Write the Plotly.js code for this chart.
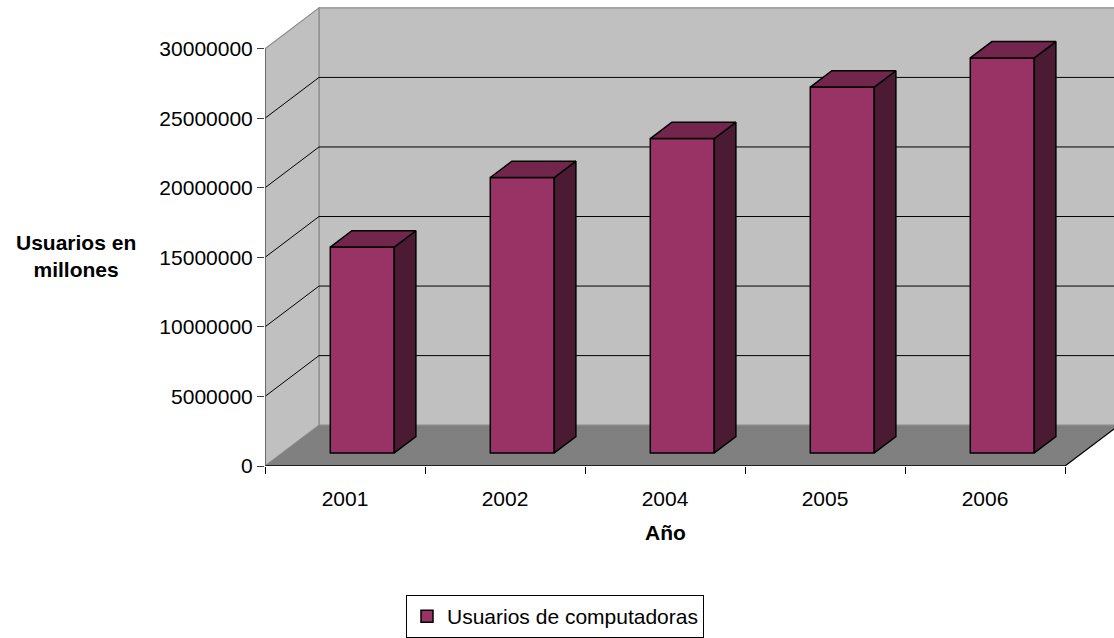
<!DOCTYPE html>
<html>
<head>
<meta charset="utf-8">
<script src="https://cdn.plot.ly/plotly-3.0.1.min.js"></script>
<style>
  html, body { margin: 0; padding: 0; background: #ffffff; }
  #chart { width: 1114px; height: 638px; }
</style>
</head>
<body>
<div id="chart"></div>
<script>
// Data
const years = ['2001', '2002', '2004', '2005', '2006'];
const users = [14800000, 19800000, 22600000, 26300000, 28400000];
const yTicks = [0, 5000000, 10000000, 15000000, 20000000, 25000000, 30000000];
const seriesName = 'Usuarios de computadoras';
const xTitle = 'Año';
const yTitle = 'Usuarios en<br>millones';

// Oblique 3-D look: depth vector expressed in axis units
const DX = 0.3375;      // depth shift along x (category units)
const DY = 2935000;     // depth shift along y (value units)
const BAR_W = 0.4;      // bar width (category units)
const F0 = 0.32;        // depth of bar front face (0 = front, 1 = back wall)
const F1 = 0.72;        // depth of bar back face

const FONT = 'Liberation Sans, Arial, sans-serif';
const cat = years.map((_, i) => i);
const X0 = -0.5;
const X1 = years.length - 0.5;
const bounds = cat.map(i => i - 0.5).concat([X1]);
const YTOP = yTicks[yTicks.length - 1];

// Front faces of the columns
const traces = [{
  type: 'bar',
  name: seriesName,
  x: cat.map(i => i + F0 * DX),
  y: users,
  base: F0 * DY,
  width: BAR_W,
  marker: { color: '#993366', line: { color: '#000000', width: 1.5 } },
  hoverinfo: 'skip',
  showlegend: true
}];

// Side and top faces of each column
users.forEach((v, i) => {
  const xl0 = i - BAR_W / 2 + F0 * DX, xr0 = i + BAR_W / 2 + F0 * DX;
  const xl1 = i - BAR_W / 2 + F1 * DX, xr1 = i + BAR_W / 2 + F1 * DX;
  const b0 = F0 * DY, b1 = F1 * DY;
  traces.push({
    type: 'scatter', mode: 'lines', fill: 'toself',
    x: [xr0, xr1, xr1, xr0, xr0],
    y: [b0, b1, v + b1, v + b0, b0],
    fillcolor: '#4b1a33',
    line: { color: '#000000', width: 1.5 },
    hoverinfo: 'skip', showlegend: false
  });
  traces.push({
    type: 'scatter', mode: 'lines', fill: 'toself',
    x: [xl0, xr0, xr1, xl1, xl0],
    y: [v + b0, v + b0, v + b1, v + b1, v + b0],
    fillcolor: '#72264c',
    line: { color: '#000000', width: 1.5 },
    hoverinfo: 'skip', showlegend: false
  });
});

// Walls, floor and gridlines
const P = (x, y) => x + ',' + y;
const shapes = [
  { type: 'path', layer: 'below', xref: 'x', yref: 'y',
    path: 'M' + P(X0 + DX, DY) + 'L' + P(X1 + DX, DY) + 'L' + P(X1 + DX, YTOP + DY) + 'L' + P(X0 + DX, YTOP + DY) + 'Z',
    fillcolor: '#c0c0c0', line: { color: '#8c8c8c', width: 1.2 } },
  { type: 'path', layer: 'below', xref: 'x', yref: 'y',
    path: 'M' + P(X0, 0) + 'L' + P(X0 + DX, DY) + 'L' + P(X0 + DX, YTOP + DY) + 'L' + P(X0, YTOP) + 'Z',
    fillcolor: '#c0c0c0', line: { color: '#8c8c8c', width: 1.2 } },
  { type: 'path', layer: 'below', xref: 'x', yref: 'y',
    path: 'M' + P(X0, 0) + 'L' + P(X1, 0) + 'L' + P(X1 + DX, DY) + 'L' + P(X0 + DX, DY) + 'Z',
    fillcolor: '#808080', line: { width: 0 } }
];
yTicks.filter(v => v > 0 && v < YTOP).forEach(v => {
  shapes.push({ type: 'line', layer: 'below', xref: 'x', yref: 'y',
    x0: X0 + DX, y0: v + DY, x1: X1 + DX, y1: v + DY,
    line: { color: '#000000', width: 1 } });
  shapes.push({ type: 'line', layer: 'below', xref: 'x', yref: 'y',
    x0: X0, y0: v, x1: X0 + DX, y1: v + DY,
    line: { color: '#000000', width: 1 } });
});
// Front floor edge (category axis line), right floor edge and value axis line
shapes.push({ type: 'line', layer: 'below', xref: 'x', yref: 'y',
  x0: X0, y0: 0, x1: X1, y1: 0, line: { color: '#000000', width: 1.5 } });
shapes.push({ type: 'line', layer: 'below', xref: 'x', yref: 'y',
  x0: X1, y0: 0, x1: X1 + DX, y1: DY, line: { color: '#000000', width: 1.2 } });
shapes.push({ type: 'line', layer: 'below', xref: 'x', yref: 'y',
  x0: X0, y0: 0, x1: X0, y1: YTOP, line: { color: '#5a5a5a', width: 1.5 } });

const layout = {
  width: 1114, height: 638,
  margin: { l: 265, r: 0, t: 0, b: 170, pad: 0 },
  paper_bgcolor: '#ffffff', plot_bgcolor: '#ffffff',
  font: { family: FONT, size: 21, color: '#000000' },
  showlegend: true,
  xaxis: {
    range: [X0, X0 + 849 / 160],
    tickmode: 'array', tickvals: cat, ticktext: years,
    ticks: 'outside', ticklen: 14, tickcolor: 'rgba(0,0,0,0)',
    minor: { tickmode: 'array', tickvals: bounds, ticks: 'outside', ticklen: 7,
             tickcolor: '#000000', tickwidth: 1, showgrid: false },
    showline: false, showgrid: false, zeroline: false,
    tickfont: { family: FONT, size: 21, color: '#000000' },
    automargin: false, fixedrange: true
  },
  yaxis: {
    range: [0, 33.5e6],
    tickmode: 'array', tickvals: yTicks, ticktext: yTicks.map(String),
    ticks: 'outside', ticklen: 7, tickcolor: '#404040', tickwidth: 1,
    showline: false, showgrid: false, zeroline: false,
    tickfont: { family: FONT, size: 21, color: '#000000' },
    automargin: false, fixedrange: true
  },
  legend: {
    x: (406 - 265) / 849, y: (468 - 598) / 468, xanchor: 'left', yanchor: 'top',
    bgcolor: '#ffffff', bordercolor: '#000000', borderwidth: 1,
    font: { family: FONT, size: 21, color: '#000000' }
  },
  annotations: [
    { text: '<b>' + yTitle + '</b>', xref: 'paper', yref: 'paper',
      x: (76 - 265) / 849, y: (468 - 257.5) / 468, xanchor: 'center', yanchor: 'middle',
      showarrow: false, font: { family: FONT, size: 21, color: '#000000' } },
    { text: '<b>' + xTitle + '</b>', xref: 'x', yref: 'paper',
      x: 2, y: (468 - 535) / 468, xanchor: 'center', yanchor: 'middle',
      showarrow: false, font: { family: FONT, size: 21, color: '#000000' } }
  ],
  shapes: shapes
};

Plotly.newPlot('chart', traces, layout, { displayModeBar: false, staticPlot: true });
</script>
</body>
</html>
